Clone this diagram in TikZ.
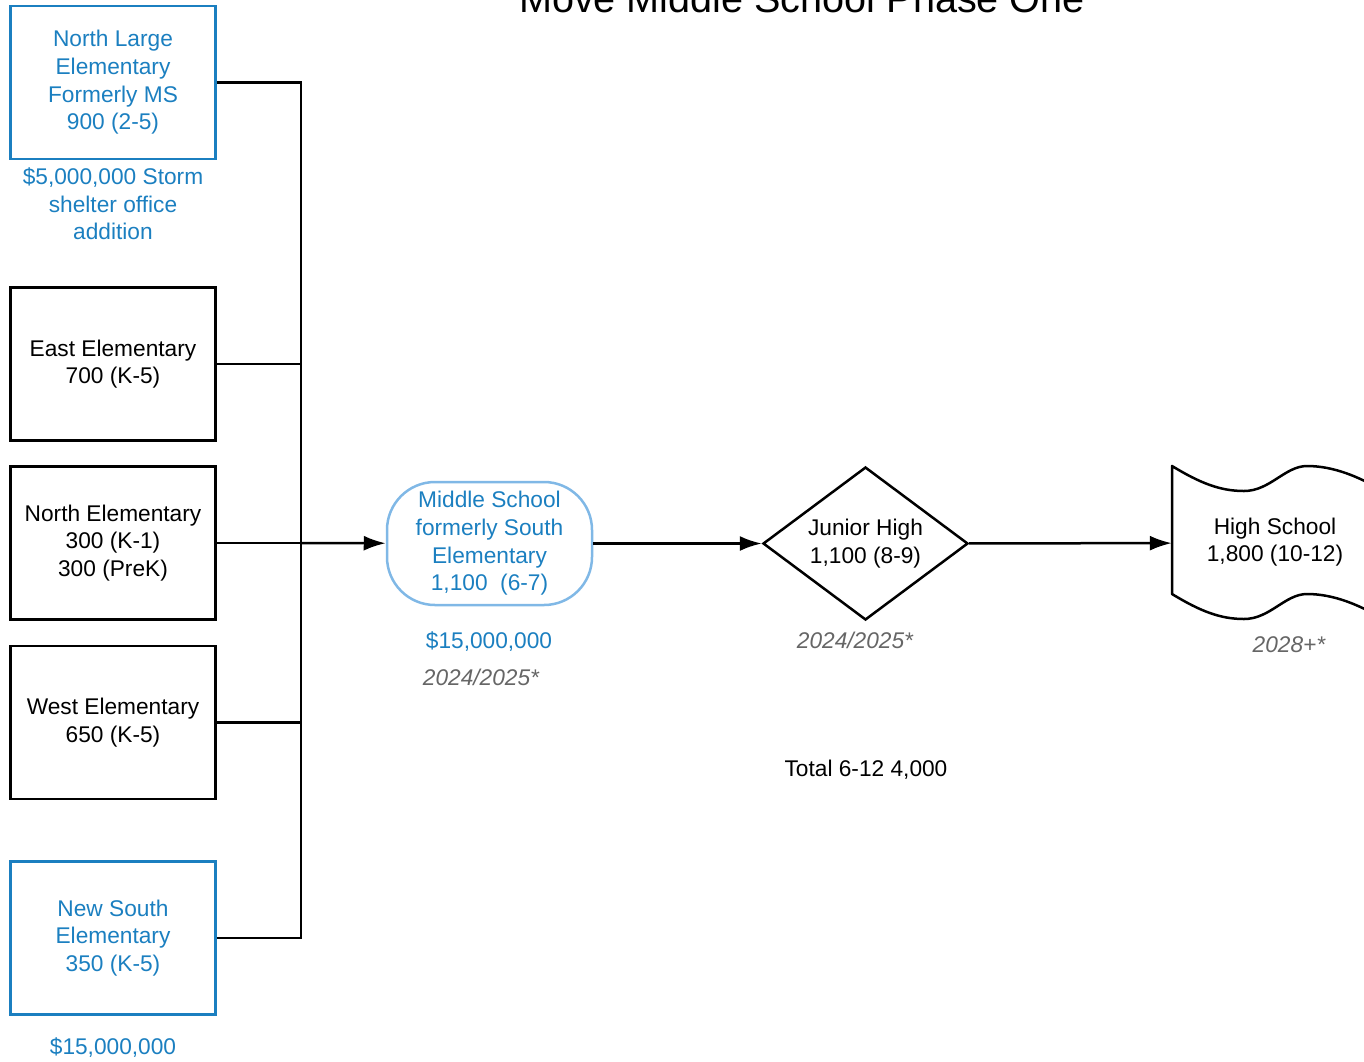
\documentclass[tikz,border=0pt]{standalone}
\usepackage{fontspec}
\setmainfont{Liberation Sans}
\usetikzlibrary{arrows.meta,shapes.geometric}
\definecolor{lblue}{HTML}{1B7FC0}
\definecolor{pblue}{HTML}{80B8E6}
\definecolor{greyt}{HTML}{666666}
\begin{document}
\begin{tikzpicture}[x=1pt,y=-1pt,
  every node/.style={font=\fontsize{22.7}{27.6}\selectfont, align=center, inner sep=0pt},
  sbox/.style={draw, line width=2.5pt, minimum width=205pt, minimum height=153pt},
  bluebox/.style={sbox, draw=lblue, text=lblue},
  conn/.style={line width=2.5pt},
  arr/.style={conn, -{Latex[length=22pt,width=15pt]}},
  bluetxt/.style={text=lblue},
  datetxt/.style={text=greyt, font=\fontsize{22.7}{27.6}\selectfont\itshape}]
\useasboundingbox (0,0) rectangle (1364,1061);
\clip (0,0) rectangle (1364,1061);

\node[font=\fontsize{39.6}{44}\selectfont, anchor=base] (title) at (802,12) {Move Middle School Phase One};

\node[bluebox] (nl) at (113,82.5) {North Large\\Elementary\\Formerly MS\\900 (2-5)};
\node[sbox] (ee) at (113,364) {East Elementary\\700 (K-5)};
\node[sbox] (ne) at (113,543) {North Elementary\\300 (K-1)\\300 (PreK)};
\node[sbox] (we) at (113,722.5) {West Elementary\\650 (K-5)};
\node[bluebox] (ns) at (113,938) {New South\\Elementary\\350 (K-5)};

\node[bluetxt] (nlcost) at (113,204) {\$5,000,000 Storm\\shelter office\\addition};
\node[bluetxt] (nscost) at (113,1048) {\$15,000,000};

\node[draw=pblue, text=lblue, line width=2.5pt, rounded corners=48pt,
      minimum width=205pt, minimum height=123pt] (ms) at (489.5,543.5)
      {Middle School\\formerly South\\Elementary\\1,100\ \ (6-7)};
\node[bluetxt] (mscost) at (489,642) {\$15,000,000};
\node[datetxt] (msdate) at (481,677) {2024/2025*};

\node[draw, diamond, line width=2.5pt, aspect=1.34, minimum width=205pt,
      minimum height=153pt] (jh) at (865.5,543.5) {Junior High\\1,100 (8-9)};
\node[datetxt] (jhdate) at (855,640) {2024/2025*};

\node[minimum width=206pt, minimum height=128pt] (hs) at (1275,543) {};
\node (hstext) at (1275,542) {High School\\1,800 (10-12)};
\begin{scope}[shift={(hs.center)}]
  \draw[line width=2.5pt, line join=round]
    (-103,-77) .. controls (-75,-60) and (-55,-52) .. (-31,-52)
    .. controls (-5,-52) and (10,-77) .. (32,-77)
    .. controls (60,-77) and (85,-65) .. (103,-55)
    -- (103,73)
    .. controls (85,63) and (60,51) .. (32,51)
    .. controls (10,51) and (-5,76) .. (-31,76)
    .. controls (-55,76) and (-75,68) .. (-103,51) -- cycle;
\end{scope}
\node[datetxt] (hsdate) at (1289,645) {2028+*};

\node (total) at (866,770) {Total 6-12 4,000};

\coordinate (bus) at (301,543);
\foreach \n in {nl,ee,ne,we,ns} \draw[conn] (\n.east) -| (bus);
\draw[arr] (bus) -- (ms);
\draw[arr] (ms) -- (jh);
\draw[arr] (jh) -- (hs);
\end{tikzpicture}
\end{document}
